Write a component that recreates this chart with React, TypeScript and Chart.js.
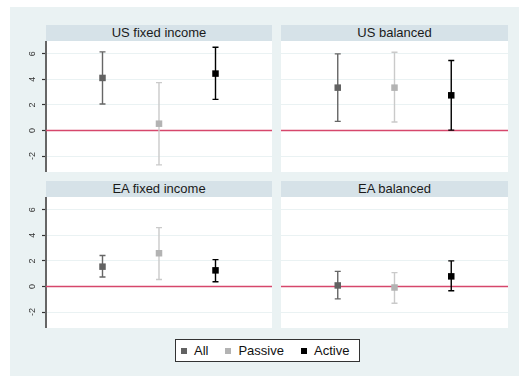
import React, { useEffect, useRef } from "react";
import { Chart, registerables } from "chart.js";

Chart.register(...registerables);

// ---- data ----
const groups = ["All", "Passive", "Active"];
const xPositions = [1, 2, 3];
const yTicks = [-2, 0, 2, 4, 6];
const panelTitles = ["US fixed income", "US balanced", "EA fixed income", "EA balanced"];

const usFixedEst = [4.11, 0.53, 4.45];
const usFixedLow = [2.07, -2.69, 2.43];
const usFixedHigh = [6.15, 3.74, 6.51];

const usBalEst = [3.35, 3.35, 2.75];
const usBalLow = [0.71, 0.66, 0.03];
const usBalHigh = [5.99, 6.12, 5.47];

const eaFixedEst = [1.55, 2.6, 1.26];
const eaFixedLow = [0.74, 0.55, 0.37];
const eaFixedHigh = [2.42, 4.6, 2.1];

const eaBalEst = [0.08, -0.08, 0.79];
const eaBalLow = [-0.97, -1.31, -0.34];
const eaBalHigh = [1.18, 1.08, 2.0];

// ---- styles ----
const markerColors = ["#626262", "#b3b3b3", "#000000"];
const barColors = ["#666666", "#cacaca", "#000000"];
const BG = "rgb(234,242,243)";
const STRIP = "rgb(214,226,232)";
const FONT = "'Liberation Sans', Arial, Helvetica, sans-serif";

type PanelProps = {
  title: string;
  est: number[];
  low: number[];
  high: number[];
  showAxis: boolean;
  left: number;
  top: number;
  width: number;
  height: number;
  stripLeft: number;
};

function Panel(p: PanelProps) {
  const ref = useRef<HTMLCanvasElement | null>(null);
  useEffect(() => {
    const canvas = ref.current;
    if (!canvas) return;
    const plugin = {
      id: "panelDecor",
      beforeDraw(chart: any) {
        const { ctx, chartArea } = chart;
        ctx.save();
        ctx.fillStyle = "#ffffff";
        ctx.fillRect(chartArea.left, chartArea.top, chartArea.right - chartArea.left, chartArea.bottom - chartArea.top);
        ctx.restore();
      },
      beforeDatasetsDraw(chart: any) {
        const { ctx, chartArea } = chart;
        const xs = chart.scales.x;
        const ys = chart.scales.y;
        ctx.save();
        // zero reference line
        const y0 = ys.getPixelForValue(0);
        ctx.strokeStyle = "#d6476c";
        ctx.lineWidth = 1.6;
        ctx.beginPath();
        ctx.moveTo(chartArea.left, y0);
        ctx.lineTo(chartArea.right, y0);
        ctx.stroke();
        // error bars
        for (let i = 0; i < xPositions.length; i++) {
          const x = xs.getPixelForValue(xPositions[i]);
          const yl = ys.getPixelForValue(p.low[i]);
          const yh = ys.getPixelForValue(p.high[i]);
          ctx.strokeStyle = barColors[i];
          ctx.lineWidth = 1.4;
          ctx.beginPath();
          ctx.moveTo(x, yl);
          ctx.lineTo(x, yh);
          ctx.moveTo(x - 3, yl);
          ctx.lineTo(x + 3, yl);
          ctx.moveTo(x - 3, yh);
          ctx.lineTo(x + 3, yh);
          ctx.stroke();
        }
        ctx.restore();
      },
      afterDraw(chart: any) {
        if (!p.showAxis) return;
        const { ctx, chartArea } = chart;
        const ys = chart.scales.y;
        ctx.save();
        ctx.fillStyle = "#333333";
        ctx.font = "9px " + FONT;
        ctx.textAlign = "center";
        ctx.textBaseline = "middle";
        for (const v of yTicks) {
          const y = ys.getPixelForValue(v);
          ctx.save();
          ctx.translate(chartArea.left - 13, y);
          ctx.rotate(-Math.PI / 2);
          ctx.fillText(String(v), 0, 0);
          ctx.restore();
        }
        ctx.restore();
      },
    };
    const chart = new Chart(canvas, {
      type: "scatter",
      data: {
        datasets: groups.map((g, i) => ({
          label: g,
          data: [{ x: xPositions[i], y: p.est[i] }],
          pointStyle: "rect",
          pointRadius: 4.6,
          pointHoverRadius: 4.6,
          pointBackgroundColor: markerColors[i],
          pointBorderWidth: 0,
          borderWidth: 0,
        })),
      },
      options: {
        responsive: false,
        animation: false,
        events: [],
        layout: { padding: 0, autoPadding: false },
        plugins: { legend: { display: false }, tooltip: { enabled: false } },
        scales: {
          x: { type: "linear", min: 0, max: 4, display: false },
          y: {
            type: "linear",
            min: -3.25,
            max: 7.0,
            afterBuildTicks: (scale: any) => {
              scale.ticks = yTicks.map((v) => ({ value: v }));
            },
            afterFit: (scale: any) => {
              scale.width = p.showAxis ? 36 : 0;
            },
            ticks: { display: false },
            grid: {
              color: BG,
              lineWidth: 1,
              drawTicks: p.showAxis,
              tickLength: 4,
              tickColor: "#333333",
              tickWidth: 1.2,
            },
            border: { display: p.showAxis, color: "#666666", width: 2 },
          },
        },
      } as any,
      plugins: [plugin],
    });
    return () => chart.destroy();
  }, []);

  return (
    <>
      <div
        style={{
          position: "absolute",
          left: p.stripLeft,
          top: p.top - 16,
          width: p.left + p.width - p.stripLeft,
          height: 16,
          background: STRIP,
          fontFamily: FONT,
          fontSize: 13,
          lineHeight: "16px",
          textAlign: "center",
          color: "#1a1a1a",
        }}
      >
        {p.title}
      </div>
      <canvas
        ref={ref}
        width={p.width}
        height={p.height}
        style={{ position: "absolute", left: p.left, top: p.top, width: p.width, height: p.height }}
      />
    </>
  );
}

export default function App() {
  const legendItems = groups.map((g, i) => (
    <span key={g} style={{ display: "flex", alignItems: "center", marginRight: i < 2 ? 17 : 0 }}>
      <span style={{ width: 6, height: 6, background: markerColors[i], display: "inline-block", marginRight: 7 }} />
      <span>{g}</span>
    </span>
  ));
  return (
    <div style={{ position: "fixed", left: 0, top: 0, width: 519, height: 376, overflow: "hidden", background: "#ffffff" }}>
      <div style={{ position: "absolute", left: 10, top: 7, width: 509, height: 369, background: BG }} />
      <Panel title={panelTitles[0]} est={usFixedEst} low={usFixedLow} high={usFixedHigh} showAxis={true} left={10} top={41} width={262} height={131} stripLeft={46} />
      <Panel title={panelTitles[1]} est={usBalEst} low={usBalLow} high={usBalHigh} showAxis={false} left={281} top={41} width={227} height={131} stripLeft={281} />
      <Panel title={panelTitles[2]} est={eaFixedEst} low={eaFixedLow} high={eaFixedHigh} showAxis={true} left={10} top={197} width={262} height={131} stripLeft={46} />
      <Panel title={panelTitles[3]} est={eaBalEst} low={eaBalLow} high={eaBalHigh} showAxis={false} left={281} top={197} width={227} height={131} stripLeft={281} />
      <div
        style={{
          position: "absolute",
          left: 175,
          top: 339,
          width: 185,
          height: 23,
          boxSizing: "border-box",
          border: "1px solid #333333",
          background: "#ffffff",
          display: "flex",
          alignItems: "center",
          paddingLeft: 5,
          fontFamily: FONT,
          fontSize: 13,
          color: "#111111",
        }}
      >
        {legendItems}
      </div>
    </div>
  );
}
